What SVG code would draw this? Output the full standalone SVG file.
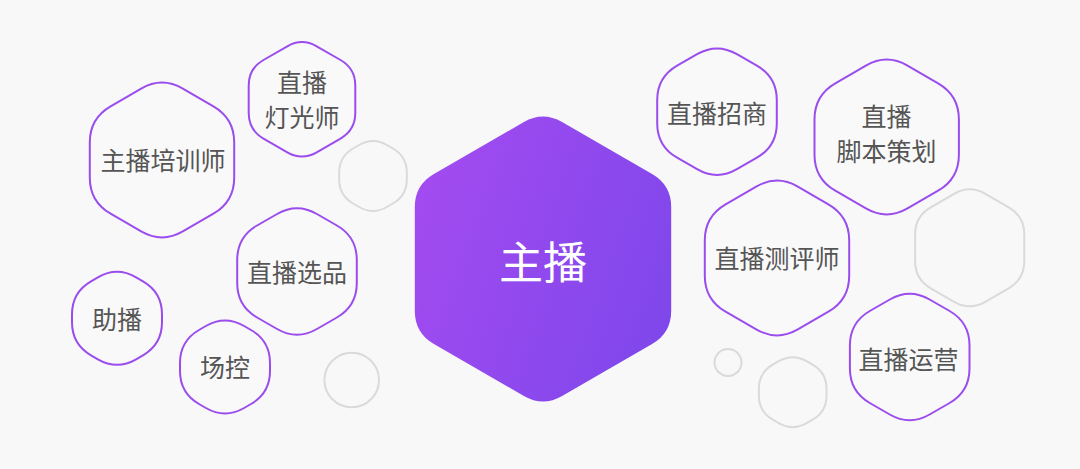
<svg xmlns="http://www.w3.org/2000/svg" xmlns:xlink="http://www.w3.org/1999/xlink" width="1080" height="469" viewBox="0 0 1080 469">
  <style>
    .hex { fill: #f9f9f9; stroke: #9b4ced; stroke-width: 2; }
    .ghost { fill: #f8f8f8; stroke: #dadada; stroke-width: 2; }
    .lbl { font-family: "Noto Sans CJK SC", "Noto Sans", sans-serif; font-size: 25px; fill: #555555; text-anchor: middle; dominant-baseline: central; }
    .main { font-family: "Noto Sans CJK SC", "Noto Sans", sans-serif; font-size: 44px; fill: #ffffff; text-anchor: middle; dominant-baseline: central; }
  </style>
  <defs>
    <linearGradient id="grad" x1="0" y1="0.3" x2="1" y2="0.7">
      <stop offset="0" stop-color="#a24bf0"/>
      <stop offset="1" stop-color="#7f47eb"/>
    </linearGradient>
    <path id="hCenter" d="M 19.1,-137 L 109.1,-85 Q 128.2,-74 128.2,-52 L 128.2,52 Q 128.2,74 109.1,85 L 19.1,137 Q 0,148 -19.1,137 L -109.1,85 Q -128.2,74 -128.2,52 L -128.2,-52 Q -128.2,-74 -109.1,-85 L -19.1,-137 Q 0,-148 19.1,-137 Z"/>
    <path id="h84" d="M 20.8,-71.4 L 51.4,-53.7 Q 72.2,-41.7 72.2,-17.7 L 72.2,17.7 Q 72.2,41.7 51.4,53.7 L 20.8,71.4 Q 0,83.4 -20.8,71.4 L -51.4,53.7 Q -72.2,41.7 -72.2,17.7 L -72.2,-17.7 Q -72.2,-41.7 -51.4,-53.7 L -20.8,-71.4 Q 0,-83.4 20.8,-71.4 Z"/>
    <path id="h70" d="M 19.9,-57.5 L 39.9,-46 Q 59.8,-34.5 59.8,-11.5 L 59.8,11.5 Q 59.8,34.5 39.9,46 L 19.9,57.5 Q 0,69 -19.9,57.5 L -39.9,46 Q -59.8,34.5 -59.8,11.5 L -59.8,-11.5 Q -59.8,-34.5 -39.9,-46 L -19.9,-57.5 Q 0,-69 19.9,-57.5 Z"/>
    <path id="h62" d="M 14.7,-53 L 38.5,-39.3 Q 53.3,-30.8 53.3,-13.8 L 53.3,13.8 Q 53.3,30.8 38.5,39.3 L 14.7,53 Q 0,61.5 -14.7,53 L -38.5,39.3 Q -53.3,30.8 -53.3,13.8 L -53.3,-13.8 Q -53.3,-30.8 -38.5,-39.3 L -14.7,-53 Q 0,-61.5 14.7,-53 Z"/>
    <path id="h64" d="M 15.6,-54 L 39,-40.5 Q 54.6,-31.5 54.6,-13.5 L 54.6,13.5 Q 54.6,31.5 39,40.5 L 15.6,54 Q 0,63 -15.6,54 L -39,40.5 Q -54.6,31.5 -54.6,13.5 L -54.6,-13.5 Q -54.6,-31.5 -39,-40.5 L -15.6,-54 Q 0,-63 15.6,-54 Z"/>
    <path id="h52" d="M 19.1,-41 L 26,-37 Q 45,-26 45,-4 L 45,4 Q 45,26 26,37 L 19.1,41 Q 0,52 -19.1,41 L -26,37 Q -45,26 -45,4 L -45,-4 Q -45,-26 -26,-37 L -19.1,-41 Q 0,-52 19.1,-41 Z"/>
    <path id="h40" d="M 13.9,-31 L 19.9,-27.5 Q 33.8,-19.5 33.8,-3.5 L 33.8,3.5 Q 33.8,19.5 19.9,27.5 L 13.9,31 Q 0,39 -13.9,31 L -19.9,27.5 Q -33.8,19.5 -33.8,3.5 L -33.8,-3.5 Q -33.8,-19.5 -19.9,-27.5 L -13.9,-31 Q 0,-39 13.9,-31 Z"/>
  </defs>

  <rect width="1080" height="469" fill="#f8f8f8"/>

  <g id="decor">
    <use xlink:href="#h40" href="#h40" class="ghost" transform="translate(373,176)"/>
    <circle class="ghost" cx="351.7" cy="380" r="27.3"/>
    <use xlink:href="#h64" href="#h64" class="ghost" transform="translate(969.7,247.8)"/>
    <use xlink:href="#h40" href="#h40" class="ghost" transform="translate(792.7,392.2)"/>
    <circle class="ghost" cx="728" cy="362.5" r="13.5"/>
  </g>

  <g id="connectors"/>

  <g id="node-main">
    <use xlink:href="#hCenter" href="#hCenter" fill="url(#grad)" transform="translate(543,259)"/>
    <text class="main" x="543" y="260">主播</text>
  </g>

  <g id="node-trainer">
    <use xlink:href="#h84" href="#h84" class="hex" transform="translate(162,160)"/>
    <text class="lbl" x="163" y="159">主播培训师</text>
  </g>

  <g id="node-lighting">
    <use xlink:href="#h62" href="#h62" class="hex" transform="translate(302,99.3)"/>
    <text class="lbl" x="302" y="81">直播</text>
    <text class="lbl" x="302" y="116">灯光师</text>
  </g>

  <g id="node-selection">
    <use xlink:href="#h70" href="#h70" class="hex" transform="translate(297,271.5)"/>
    <text class="lbl" x="297" y="271">直播选品</text>
  </g>

  <g id="node-assistant">
    <use xlink:href="#h52" href="#h52" class="hex" transform="translate(117,318.3)"/>
    <text class="lbl" x="117" y="318">助播</text>
  </g>

  <g id="node-control">
    <use xlink:href="#h52" href="#h52" class="hex" transform="translate(225,367)"/>
    <text class="lbl" x="225" y="366">场控</text>
  </g>

  <g id="node-merchant">
    <use xlink:href="#h70" href="#h70" class="hex" transform="translate(717,111.7)"/>
    <text class="lbl" x="717" y="111.5">直播招商</text>
  </g>

  <g id="node-script">
    <use xlink:href="#h84" href="#h84" class="hex" transform="translate(886.7,137)"/>
    <text class="lbl" x="886.5" y="114.5">直播</text>
    <text class="lbl" x="886.5" y="149.5">脚本策划</text>
  </g>

  <g id="node-reviewer">
    <use xlink:href="#h84" href="#h84" class="hex" transform="translate(777,258)"/>
    <text class="lbl" x="777" y="257">直播测评师</text>
  </g>

  <g id="node-operation">
    <use xlink:href="#h70" href="#h70" class="hex" transform="translate(909.7,357)"/>
    <text class="lbl" x="908.5" y="357.5">直播运营</text>
  </g>
</svg>
